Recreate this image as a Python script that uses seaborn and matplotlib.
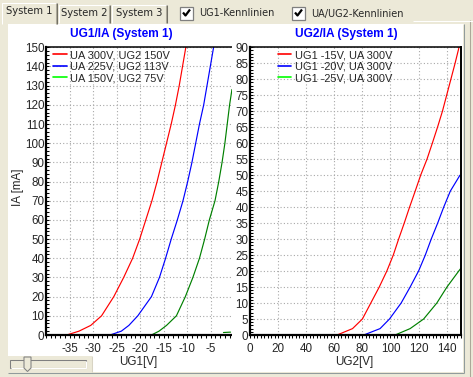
import matplotlib
matplotlib.use("Agg")
import matplotlib.pyplot as plt
import seaborn as sns
import pandas as pd
from matplotlib.patches import Rectangle, Polygon
from matplotlib.lines import Line2D
from matplotlib.ticker import MultipleLocator

sns.set_style("white")
plt.rcParams["font.family"] = ["Liberation Sans", "DejaVu Sans"]
plt.rcParams["axes.unicode_minus"] = False

# ---------------- data ----------------
tab_labels = ["System 1", "System 2", "System 3"]
check_labels = ["UG1-Kennlinien", "UA/UG2-Kennlinien"]

left_title = "UG1/IA (System 1)"
right_title = "UG2/IA (System 1)"
left_series = ["UA 300V, UG2 150V", "UA 225V, UG2 113V", "UA 150V, UG2 75V"]
right_series = ["UG1 -15V, UA 300V", "UG1 -20V, UA 300V", "UG1 -25V, UA 300V"]

ia_left_rb = [0, 2, 5, 10, 20, 30, 40, 50, 60, 70, 80, 90, 100, 110, 120, 130, 140, 150, 155]
ug1_red = [-35.6, -33.0, -30.5, -28.2, -25.6, -23.5, -21.6, -20.1, -18.8, -17.5, -16.4,
           -15.4, -14.4, -13.4, -12.5, -11.7, -11.0, -10.3, -10.0]
ug1_blue = [-26.4, -24.0, -22.4, -20.5, -17.6, -15.9, -14.6, -13.4, -12.1, -10.9, -9.9,
            -9.0, -8.2, -7.4, -6.5, -5.8, -5.1, -4.4, -4.1]
ia_left_g = [0, 2, 5, 10, 20, 30, 40, 50, 60, 70, 80, 90, 100, 110, 120, 128]
ug1_green = [-17.6, -16.0, -14.4, -12.3, -10.4, -8.8, -7.4, -6.3, -5.3, -4.1, -3.3,
             -2.6, -2.0, -1.5, -1.0, -0.5]
ug1_green_tail = [-2.3, -0.8]
ia_green_tail = [1.3, 1.5]

ia_r_red = [0, 2, 5, 10, 15, 20, 25, 30, 35, 40, 45, 50, 55, 60, 65, 70, 75, 80, 85, 90, 92]
ug2_red = [62, 73, 80, 86, 92, 97.4, 102, 105.8, 109.8, 113.6, 117.6, 121.5, 126, 129.8,
           133.5, 137, 140, 143, 146, 148.8, 150]
ia_r_blue = [0, 2, 5, 10, 15, 20, 25, 30, 35, 40, 45, 50]
ug2_blue = [81, 92.6, 99.3, 107.6, 114, 120, 124.8, 129, 133.6, 137.9, 142.6, 149.5]
ia_r_green = [0, 2, 5, 10, 15, 20, 20.8]
ug2_green = [103.3, 114, 123.6, 133, 140.2, 148.6, 150]

curve_colors = ["#ff0000", "#0000ff", "#008000"]
legend_colors = ["#ff0000", "#0000ff", "#00ff00"]

# ---------------- frames ----------------
df_left = pd.concat([
    pd.DataFrame({"UG1": ug1_red, "IA": ia_left_rb, "s": "r"}),
    pd.DataFrame({"UG1": ug1_blue, "IA": ia_left_rb, "s": "b"}),
    pd.DataFrame({"UG1": ug1_green, "IA": ia_left_g, "s": "g"}),
    pd.DataFrame({"UG1": ug1_green_tail, "IA": ia_green_tail, "s": "g2"}),
])
df_right = pd.concat([
    pd.DataFrame({"UG2": ug2_red, "IA": ia_r_red, "s": "r"}),
    pd.DataFrame({"UG2": ug2_blue, "IA": ia_r_blue, "s": "b"}),
    pd.DataFrame({"UG2": ug2_green, "IA": ia_r_green, "s": "g"}),
])

W, H = 473, 377
BG = "#ece9d8"
fig = plt.figure(figsize=(W / 100, H / 100), dpi=100, facecolor=BG)


def fx(x):
    return x / W


def fy(y):
    return 1 - y / H


def rect(x0, y0, x1, y1, fc, ec="none", lw=0, z=-2):
    r = Rectangle((fx(x0), fy(y1)), (x1 - x0) / W, (y1 - y0) / H,
                  transform=fig.transFigure, facecolor=fc, edgecolor=ec,
                  linewidth=lw, zorder=z)
    fig.add_artist(r)


def line(xs, ys, color, lw=0.75, z=5):
    fig.add_artist(Line2D([fx(x) for x in xs], [fy(y) for y in ys],
                          transform=fig.transFigure, color=color, lw=lw,
                          zorder=z, solid_capstyle="butt"))


# chart control background
rect(8, 24, 463, 372, "white", z=-3)
# slider area (beige)
rect(8, 356, 92, 372, BG, z=4)
line([92, 92], [356, 372], "#d8d4c4", 0.75, 5)
# cover the part of the left chart lying under the right chart
rect(232, 24, 463, 372, "white", z=1)
# borders
line([463.5, 463.5], [24, 372.5], "#919b9c", 0.75, 6)
line([8, 463.5], [372.5, 372.5], "#919b9c", 0.75, 6)
line([469.5, 469.5], [20, 377], "#aca899", 0.75, 6)
line([413, 473], [20.5, 20.5], "white", 0.75, 6)

# tabs
tabs = [(1, 2, 57, 24, True), (58, 4, 110, 23, False), (111, 4, 167, 23, False)]
for (x0, y0, x1, y1, sel), lab in zip(tabs, tab_labels):
    rect(x0, y0, x1, y1, BG, z=6)
    line([x0 + 0.5, x0 + 0.5, x1 - 0.5], [y1, y0 + 0.5, y0 + 0.5], "white", 0.75, 7)
    line([x1 - 0.5, x1 - 0.5], [y0 + 1, y1], "#716f64", 0.75, 7)
    line([x1 - 1.5, x1 - 1.5], [y0 + 1, y1], "#aca899", 0.75, 7)
    fig.text(fx((x0 + x1) / 2), fy(y0 + 9.5), lab, ha="center", va="center",
             fontsize=7.2, family=["DejaVu Sans"], zorder=8)
line([57, 463], [23.5, 23.5], "white", 0.75, 6)

# checkboxes
for bx, tx, lab in [(180, 199, check_labels[0]), (292, 311, check_labels[1])]:
    rect(bx, 7, bx + 13, 20, "white", ec="#7f7f7f", lw=0.9, z=6)
    line([bx + 3, bx + 5.5, bx + 10], [12.5, 15.5, 9.5], "black", 1.6, 7)
    fig.text(fx(tx), fy(13.5), lab, ha="left", va="center", fontsize=7.0,
             family=["DejaVu Sans"], zorder=8)

# slider
rect(10, 360, 86, 368, BG, ec="#808080", lw=0.75, z=5)
line([10.5, 85.5, 85.5], [367.5, 367.5, 360.5], "white", 0.75, 6)
thumb = Polygon([(fx(24), fy(357)), (fx(31), fy(357)), (fx(31), fy(368)),
                 (fx(27.5), fy(371.5)), (fx(24), fy(368))], closed=True,
                transform=fig.transFigure, facecolor=BG, edgecolor="#808080",
                linewidth=0.75, zorder=7)
fig.add_artist(thumb)

# ---------------- charts ----------------
ax1 = fig.add_axes([fx(46), 42 / H, 188.3 / W, 287.7 / H], zorder=0)
ax2 = fig.add_axes([fx(250), 42 / H, 210.7 / W, 287.7 / H], zorder=2)

pal_left = {"r": curve_colors[0], "b": curve_colors[1], "g": curve_colors[2], "g2": curve_colors[2]}
pal_right = {"r": curve_colors[0], "b": curve_colors[1], "g": curve_colors[2]}
sns.lineplot(data=df_left, x="UG1", y="IA", hue="s", palette=pal_left, sort=False,
             estimator=None, legend=False, lw=0.85, ax=ax1)
sns.lineplot(data=df_right, x="UG2", y="IA", hue="s", palette=pal_right, sort=False,
             estimator=None, legend=False, lw=0.85, ax=ax2)

ax1.set_xlim(-40, 0)
ax1.set_ylim(0, 150)
ax1.set_xticks(list(range(-35, 1, 5)))
ax1.set_yticks(list(range(0, 151, 10)))
ax1.xaxis.set_minor_locator(MultipleLocator(1))
ax1.yaxis.set_minor_locator(MultipleLocator(2))

ax2.set_xlim(0, 150)
ax2.set_ylim(0, 90)
ax2.set_xticks(list(range(0, 141, 20)))
ax2.set_yticks(list(range(0, 91, 5)))
ax2.xaxis.set_minor_locator(MultipleLocator(2.5))
ax2.yaxis.set_minor_locator(MultipleLocator(1))

for ax in (ax1, ax2):
    ax.set_facecolor("white")
    ax.grid(True, which="major", color="#a8a8a8", linestyle=(0, (1, 2)), linewidth=0.8)
    ax.set_axisbelow(True)
    ax.tick_params(axis="x", which="both", direction="out", length=2.5, width=0.75,
                   color="black", labelsize=8.4, pad=3.5, bottom=True)
    ax.tick_params(axis="y", which="both", direction="in", length=2.5, width=0.75,
                   color="black", labelsize=8.4, pad=1.2, left=True)
    for s in ("left", "bottom"):
        ax.spines[s].set_linewidth(1.6)
        ax.spines[s].set_color("black")
    ax.spines["top"].set_linewidth(1.1)
    ax.spines["top"].set_color("black")
    ax.set_xlabel("")
    ax.set_ylabel("")

ax1.spines["right"].set_visible(False)
ax2.spines["right"].set_linewidth(1.4)
ax2.spines["right"].set_color("black")

ax1.set_xlabel("UG1[V]", fontsize=8.4)
ax1.xaxis.set_label_coords((138 - 46) / 188.3, -(362 - 335) / 287.7)
ax1.xaxis.label.set_va("center")
ax1.set_ylabel("IA [mA]", fontsize=8.4)
ax1.yaxis.set_label_coords(-(46 - 18) / 188.3, (335 - 187) / 287.7)
ax1.yaxis.label.set_va("center")
ax2.set_xlabel("UG2[V]", fontsize=8.4)
ax2.xaxis.set_label_coords((354 - 250) / 210.7, -(362 - 335) / 287.7)
ax2.xaxis.label.set_va("center")

# legends
for ax, labels, x0 in ((ax1, left_series, 7 / 188.3), (ax2, right_series, 27.7 / 210.7)):
    handles = [Line2D([], [], color=c, lw=1.2) for c in legend_colors]
    ax.legend(handles, labels, loc="upper left", bbox_to_anchor=(x0, 0.99),
              frameon=False, fontsize=7.9, handlelength=1.25, handletextpad=0.3,
              labelspacing=0.13, borderpad=0, borderaxespad=0)

# titles
fig.text(fx(121), fy(34.5), left_title, ha="center", va="center", color="#0000ff",
         fontsize=8.6, weight="bold", zorder=8)
fig.text(fx(346), fy(34.5), right_title, ha="center", va="center", color="#0000ff",
         fontsize=8.6, weight="bold", zorder=8)

fig.savefig("out.png", dpi=100, facecolor=BG)
